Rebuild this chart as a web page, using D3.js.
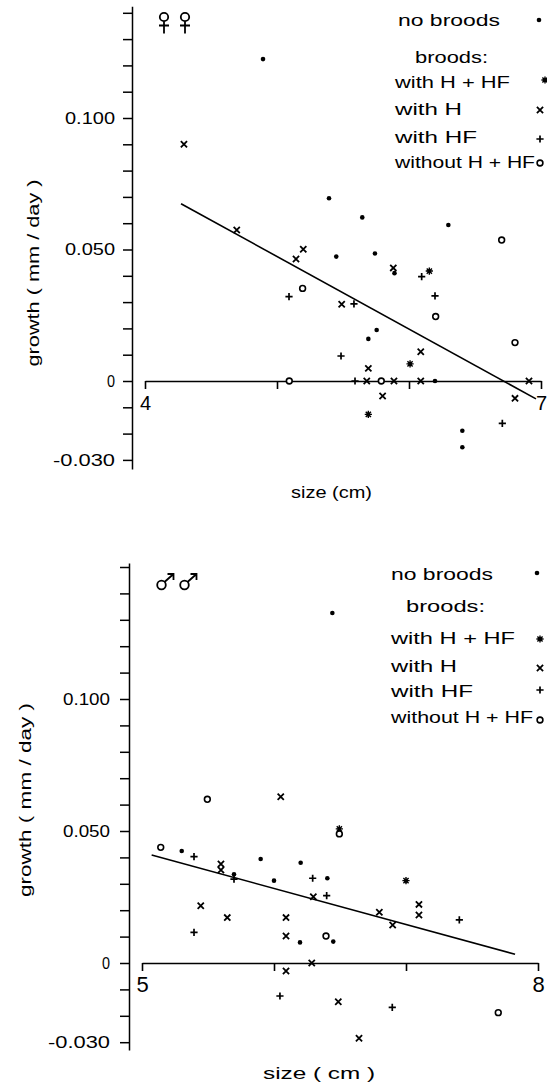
<!DOCTYPE html>
<html>
<head>
<meta charset="utf-8">
<script src="https://cdn.jsdelivr.net/npm/d3@7"></script>
<style>
html,body{margin:0;padding:0;background:#fff;}
svg{display:block;}
text{font-family:"Liberation Sans",Arial,sans-serif;fill:#000;}
</style>
</head>
<body>
<svg id="chart" width="547" height="1083"></svg>
<script>
// ---------- DATA ----------
// Females (top panel): [size cm, growth mm/day]
const femaleNoBroods = [[4.894,0.1224],[5.394,0.0695],[5.646,0.0622],[5.449,0.0473],[5.742,0.0485],[5.89,0.041],[6.298,0.0593],[5.755,0.0194],[5.692,0.016],[6.197,0],[6.404,-0.0189],[6.404,-0.0252]];
const femaleHHF = [[6.154,0.0418],[6.008,0.0065],[5.692,-0.0127]];
const femaleH = [[4.295,0.090],[4.695,0.0574],[5.199,0.0501],[5.144,0.0464],[5.881,0.043],[5.490,0.0292],[6.089,0.0111],[5.692,0.0048],[5.68,0],[5.886,0],[6.089,0],[6.909,0],[5.80,-0.0057],[6.803,-0.0066]];
const femaleHF = [[6.096,0.0397],[5.091,0.0321],[5.583,0.0293],[6.197,0.0324],[5.485,0.0095],[5.591,0],[6.707,-0.0161]];
const femaleWithout = [[5.194,0.0352],[6.702,0.0536],[6.202,0.0245],[6.803,0.0146],[5.093,0],[5.79,0]];
const femaleFit = [[4.273,0.0674],[6.962,-0.0068]];

// Males (bottom panel)
const maleNoBroods = [[6.442,0.1326],[5.301,0.0424],[5.697,0.0336],[5.899,0.0394],[6.0,0.0312],[6.202,0.0380],[6.404,0.0321],[6.197,0.0078],[6.449,0.0081]];
const maleHHF = [[6.495,0.0508],[7.0,0.0312]];
const maleH = [[6.051,0.0630],[5.598,0.0375],[5.598,0.0352],[6.298,0.0251],[5.445,0.0217],[5.646,0.0172],[6.091,0.0172],[6.091,0.0102],[7.098,0.0222],[7.098,0.0182],[6.798,0.0192],[6.899,0.0144],[6.286,0],[6.091,-0.003],[6.487,-0.0147],[6.644,-0.0285]];
const maleHF = [[5.394,0.0403],[5.697,0.0318],[6.293,0.0321],[6.399,0.0255],[5.394,0.0116],[7.404,0.0163],[6.045,-0.0125],[6.896,-0.0168]];
const maleWithout = [[5.495,0.0620],[5.142,0.0438],[6.495,0.0489],[6.394,0.0102],[7.699,-0.0188]];
const maleFit = [[5.073,0.0409],[7.826,0.0033]];

// Tick labels
const femaleXTickLabels = {4:"4",7:"7"};
const maleXTickLabels = {5:"5",8:"8"};
const yTickLabels = {"0.1":"0.100","0.05":"0.050","0":"0","-0.03":"-0.030"};
const legendLabels = ["no broods","broods:","with H + HF","with H","with HF","without H + HF"];
const legendTypes = ["dot",null,"star","x","plus","o"];

// ---------- DRAW ----------
const svg = d3.select("#chart");
svg.append("rect").attr("width",547).attr("height",1083).attr("fill","#fff");

function drawMarker(g, type, cx, cy){
  if(type==="dot"){
    g.append("circle").attr("cx",cx).attr("cy",cy).attr("r",2.3).attr("fill","#000");
  } else if(type==="x"){
    const s=3.1;
    g.append("path").attr("d",`M${cx-s},${cy-s}L${cx+s},${cy+s}M${cx-s},${cy+s}L${cx+s},${cy-s}`)
      .attr("stroke","#000").attr("stroke-width",1.8).attr("fill","none");
  } else if(type==="plus"){
    const s=3.6;
    g.append("path").attr("d",`M${cx-s},${cy}L${cx+s},${cy}M${cx},${cy-s}L${cx},${cy+s}`)
      .attr("stroke","#000").attr("stroke-width",1.7).attr("fill","none");
  } else if(type==="o"){
    g.append("circle").attr("cx",cx).attr("cy",cy).attr("r",2.9).attr("fill","#fff")
      .attr("stroke","#000").attr("stroke-width",1.6);
  } else if(type==="star"){
    const s=3.6, d=2.6;
    g.append("path").attr("d",`M${cx-s},${cy}L${cx+s},${cy}M${cx},${cy-s}L${cx},${cy+s}M${cx-d},${cy-d}L${cx+d},${cy+d}M${cx-d},${cy+d}L${cx+d},${cy-d}`)
      .attr("stroke","#000").attr("stroke-width",1.4).attr("fill","none");
    g.append("circle").attr("cx",cx).attr("cy",cy).attr("r",1.8).attr("fill","#000");
  }
}

function female(g, cx, cy){ // cy = circle centre
  g.append("circle").attr("cx",cx).attr("cy",cy).attr("r",4.2).attr("fill","none").attr("stroke","#000").attr("stroke-width",1.8);
  g.append("path").attr("d",`M${cx},${cy+4.2}V${cy+16.5}M${cx-5},${cy+8.5}H${cx+5}`)
    .attr("stroke","#000").attr("stroke-width",1.8).attr("fill","none");
}
function male(g, cx, cy){
  g.append("circle").attr("cx",cx).attr("cy",cy).attr("r",4.3).attr("fill","none").attr("stroke","#000").attr("stroke-width",1.8);
  const ax=cx+12, ay=cy-11;
  g.append("path").attr("d",`M${cx+3},${cy-3}L${ax},${ay}M${ax-6},${ay}H${ax}V${ay+6}`)
    .attr("stroke","#000").attr("stroke-width",1.8).attr("fill","none");
}

function panel(cfg){
  const g = svg.append("g");
  const ppu = cfg.ppu;
  const yDom = [cfg.yMin, cfg.yMax];
  const y = d3.scaleLinear().domain(yDom).range([cfg.y0 - yDom[0]*ppu, cfg.y0 - yDom[1]*ppu]);
  const x = d3.scaleLinear().domain(cfg.xDomain).range(cfg.xRange);

  // y axis
  const yTicks = d3.range(-3, cfg.yTopTick+1).map(v=>+(v/100).toFixed(2));
  const yAxis = d3.axisLeft(y).tickValues(yTicks).tickSize(9).tickSizeOuter(0).tickPadding(cfg.yPad)
     .tickFormat(v => yTickLabels[String(+v.toFixed(2))] || "");
  const ya = g.append("g").attr("transform",`translate(${cfg.yAxisX},0)`).call(yAxis);
  ya.selectAll("path,line").attr("stroke","#000").attr("stroke-width",1.5);
  ya.selectAll("text").attr("font-size",16).attr("font-family","Liberation Sans, Arial, sans-serif")
    .attr("fill","#000")
    .each(function(){
      const t=d3.select(this).text();
      const w={"0.100":cfg.wTick,"0.050":cfg.wTick,"0":8,"-0.030":cfg.wTickNeg}[t];
      if(w) d3.select(this).attr("textLength",w).attr("lengthAdjust","spacingAndGlyphs");
    });

  // x axis at growth = 0
  const xAxis = d3.axisBottom(x).tickValues(d3.range(cfg.xDomain[0], cfg.xDomain[1]+1)).tickSize(8)
     .tickSizeOuter(0).tickPadding(cfg.xPad).tickFormat(v => cfg.xLabels[v] || "");
  const xa = g.append("g").attr("transform",`translate(0,${y(0)})`).call(xAxis);
  xa.selectAll("path,line").attr("stroke","#000").attr("stroke-width",1.6);
  xa.selectAll("text").attr("font-size",cfg.xFont).attr("font-family","Liberation Sans, Arial, sans-serif").attr("fill","#000");

  // regression line
  g.append("path").datum(cfg.fit)
    .attr("d", d3.line().x(d=>x(d[0])).y(d=>y(d[1])))
    .attr("stroke","#000").attr("stroke-width",1.6).attr("fill","none");

  // points
  const groups = [["dot",cfg.noBroods],["star",cfg.hhf],["x",cfg.h],["plus",cfg.hf],["o",cfg.without]];
  groups.forEach(([type,arr])=>{
    arr.forEach(d=>drawMarker(g,type,x(d[0]),y(d[1])));
  });

  // axis titles
  g.append("text").attr("x",cfg.xTitle[0]).attr("y",cfg.xTitle[1]).attr("font-size",17)
    .attr("textLength",cfg.xTitle[2]).attr("lengthAdjust","spacingAndGlyphs")
    .text(cfg.xTitleText);
  g.append("text").attr("transform",`translate(${cfg.yTitle[0]},${cfg.yTitle[1]}) rotate(-90)`)
    .attr("text-anchor","middle").attr("font-size",17)
    .attr("textLength",cfg.yTitle[2]).attr("lengthAdjust","spacingAndGlyphs")
    .text("growth ( mm / day )");

  // legend
  legendLabels.forEach((lab,i)=>{
    const L = cfg.legend[i];
    g.append("text").attr("x",L[0]).attr("y",L[1]).attr("font-size",17)
      .attr("textLength",L[2]).attr("lengthAdjust","spacingAndGlyphs").text(lab);
    if(legendTypes[i]) drawMarker(g, legendTypes[i], L[3], L[4]);
  });

  // sex symbols
  cfg.sym.forEach(s=> cfg.symFn(g, s[0], s[1]));
}

panel({
  ppu:2630, y0:381, yMin:-0.0335, yMax:0.1425, yTopTick:14, yAxisX:132, yPad:8,
  wTick:50, wTickNeg:62,
  xDomain:[4,7], xRange:[145,541], xLabels:femaleXTickLabels, xFont:20, xPad:7,
  fit:femaleFit, noBroods:femaleNoBroods, hhf:femaleHHF, h:femaleH, hf:femaleHF, without:femaleWithout,
  xTitle:[291,498,81], xTitleText:"size (cm)", yTitle:[39,273,187],
  legend:[[398,26,102,539,20],[415,63,73],[395,88,115,545,80],[395,115,67,540,110],[395,143,82,540,139],[395,168,140,540,163]],
  sym:[[164,17],[185,17]], symFn:female
});

panel({
  ppu:2640, y0:963, yMin:-0.033, yMax:0.1515, yTopTick:15, yAxisX:129, yPad:10,
  wTick:47, wTickNeg:62,
  xDomain:[5,8], xRange:[142,538], xLabels:maleXTickLabels, xFont:22, xPad:5,
  fit:maleFit, noBroods:maleNoBroods, hhf:maleHHF, h:maleH, hf:maleHF, without:maleWithout,
  xTitle:[263,1079,112], xTitleText:"size ( cm )", yTitle:[31,800,194],
  legend:[[391,580,102,537,573],[406,612,79],[391,644,124,540,639],[391,672,66,540,668],[391,697,82,540,690],[391,723,142,540,720]],
  sym:[[161.5,585],[184.5,585]], symFn:male
});
</script>
</body>
</html>
